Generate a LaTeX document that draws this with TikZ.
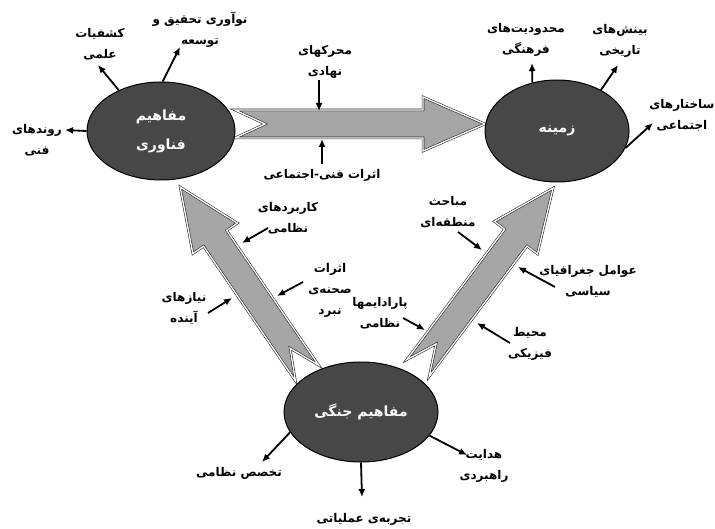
\documentclass[tikz,border=0pt]{standalone}
\usepackage{fontspec}
\usetikzlibrary{shapes.geometric, arrows.meta}
\newfontfamily\fafont[Script=Arabic]{DejaVu Sans}
\TeXXeTstate=1
\newcommand{\fatxt}[1]{\beginR #1\endR}
\newcommand{\grayarrow}[1]{%
  \draw[bigarrow] (0,-14) -- ({#1-62},-14) -- ({#1-62},-27) -- (#1,0)
    -- ({#1-62},27) -- ({#1-62},14) -- (0,14) -- (30,0) -- cycle;}

\begin{document}
\begin{tikzpicture}[x=1pt, y=-1pt,
  every node/.style={align=center, inner sep=1pt, font=\fafont\bfseries\fontsize{12}{21}\selectfont},
  concept/.style={ellipse, draw=black, line width=1pt, fill=black!72, text=white, inner sep=0pt, font=\fafont\bfseries\fontsize{14}{29}\selectfont},
  bigarrow/.style={fill=black!35, draw=black!85, line width=0.6pt, double=white, double distance=1.3pt},
  arr/.style={-{Latex[length=8pt,width=7pt]}, line width=1.8pt}]

        \useasboundingbox (0,0) rectangle (715,529);

        \begin{scope}[shift={(235,124)}] \grayarrow{250} \end{scope}
        \begin{scope}[shift={(307,373)}, rotate=124.3] \grayarrow{225} \end{scope}
        \begin{scope}[shift={(418,368)}, rotate=53.1] \grayarrow{225} \end{scope}

        \node[concept, minimum width=148pt, minimum height=98pt] (F) at (161,131) {\fatxt{مفاهیم}\\\fatxt{فناوری}};
        \node[concept, minimum width=144pt, minimum height=102pt] (Z) at (557,131) {\fatxt{زمینه}};
        \node[concept, minimum width=154pt, minimum height=100pt] (J) at (361,412) {\fatxt{مفاهیم جنگی}};

        \node (A) at (100,44) {\fatxt{کشفیات}\\\fatxt{علمی}};
        \node (B) at (200,30) {\fatxt{نوآوری تحقیق و}\\\fatxt{توسعه}};
        \node (C) at (37,140) {\fatxt{روندهای}\\\fatxt{فنی}};
        \node (D) at (325,62) {\fatxt{محرکهای}\\\fatxt{نهادی}};
        \node (E) at (322,175) {\fatxt{اثرات فنی-اجتماعی}};
        \node (G) at (526,40) {\fatxt{محدودیت^^^^200cهای}\\\fatxt{فرهنگی}};
        \node (H) at (620,41) {\fatxt{بینش^^^^200cهای}\\\fatxt{تاریخی}};
        \node (I) at (682,115) {\fatxt{ساختارهای}\\\fatxt{اجتماعی}};
        \node (K) at (288,218) {\fatxt{کاربردهای}\\\fatxt{نظامی}};
        \node (L) at (330,290) {\fatxt{اثرات}\\\fatxt{صحنه^^^^200cی}\\\fatxt{نبرد}};
        \node (M) at (184,308) {\fatxt{نیازهای}\\\fatxt{آینده}};
        \node (N) at (448,212) {\fatxt{مباحث}\\\fatxt{منطقه^^^^200cای}};
        \node (O) at (588,281) {\fatxt{عوامل جغرافیای}\\\fatxt{سیاسی}};
        \node (P) at (380,313) {\fatxt{پارادایمها}\\\fatxt{نظامی}};
        \node (Q) at (530,344) {\fatxt{محیط}\\\fatxt{فیزیکی}};
        \node (R) at (239,473) {\fatxt{تخصص نظامی}};
        \node (S) at (364,519) {\fatxt{تجربه^^^^200cی عملیاتی}};
        \node (T) at (484,466) {\fatxt{هدایت}\\\fatxt{راهبردی}};

        \coordinate (a) at (98,65);
        \coordinate (b) at (180,47);
        \coordinate (c) at (65,130);
        \coordinate (d1) at (319,80);
        \coordinate (d2) at (319,111);
        \coordinate (e1) at (322,164);
        \coordinate (e2) at (322,139);
        \coordinate (g) at (532,63);
        \coordinate (h) at (618,65);
        \coordinate (i) at (653,123);
        \coordinate (k1) at (268,228);
        \coordinate (k2) at (242,243);
        \coordinate (l1) at (303,282);
        \coordinate (l2) at (277,296);
        \coordinate (m1) at (208,313);
        \coordinate (m2) at (232,298);
        \coordinate (n1) at (458,232);
        \coordinate (n2) at (482,250);
        \coordinate (o1) at (555,287);
        \coordinate (o2) at (518,267);
        \coordinate (p1) at (403,318);
        \coordinate (p2) at (425,330);
        \coordinate (q1) at (510,343);
        \coordinate (q2) at (477,323);
        \coordinate (r) at (262,462);
        \coordinate (s) at (362,497);
        \coordinate (t) at (467,455);

        \draw[arr] (F.136) to (a);
        \draw[arr] (F.88) to (b);
        \draw[arr] (F.180) to (c);
        \draw[arr] (d1) to (d2);
        \draw[arr] (e1) to (e2);
        \draw[arr] (Z.117) to (g);
        \draw[arr] (Z.43) to (h);
        \draw[arr] (Z.-14) to (i);
        \draw[arr] (k1) to (k2);
        \draw[arr] (l1) to (l2);
        \draw[arr] (m1) to (m2);
        \draw[arr] (n1) to (n2);
        \draw[arr] (o1) to (o2);
        \draw[arr] (p1) to (p2);
        \draw[arr] (q1) to (q2);
        \draw[arr] (J.196) to (r);
        \draw[arr] (J.270) to (s);
        \draw[arr] (J.-19) to (t);

\end{tikzpicture}
\end{document}
